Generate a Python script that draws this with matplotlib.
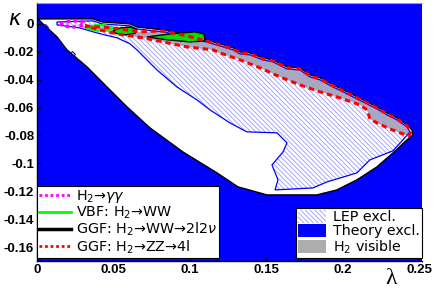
import matplotlib
matplotlib.use('Agg')
import matplotlib.pyplot as plt
from matplotlib.patches import Polygon, Patch
from matplotlib.lines import Line2D

# allowed (not theory-excluded) region, lambda / kappa
allowed_lam = [0.0007, 0.0366, 0.0425, 0.0609, 0.0654, 0.0825, 0.0982, 0.1086,
               0.1198, 0.1283, 0.1329, 0.1394, 0.1479, 0.1545, 0.1636, 0.1721,
               0.1787, 0.1852, 0.1937, 0.2003, 0.2094, 0.2160, 0.2225, 0.2291,
               0.2356, 0.2421, 0.2454, 0.2461,
               0.2421, 0.2330, 0.2225, 0.2094, 0.1963, 0.1832, 0.1505, 0.1315,
               0.1178, 0.0955, 0.0740, 0.0589, 0.0458, 0.0327, 0.0196, 0.0131,
               0.0039]
allowed_kap = [0.0036, 0.0036, 0.0014, 0.0, -0.0022, -0.0043, -0.0079, -0.0108,
               -0.0143, -0.0172, -0.0201, -0.0208, -0.0244, -0.0258, -0.0308, -0.0315,
               -0.0366, -0.0387, -0.0437, -0.0473, -0.0523, -0.0559, -0.0595, -0.0638,
               -0.0674, -0.0724, -0.0760, -0.0796,
               -0.0832, -0.0925, -0.1025, -0.1118, -0.1190, -0.1226, -0.1226, -0.1168,
               -0.1068, -0.0918, -0.0746, -0.0595, -0.0452, -0.0308, -0.0186, -0.0093,
               0.0]

# LEP excluded region
lep_lam = [0.0131, 0.0366, 0.0425, 0.0609, 0.0654, 0.0825, 0.0982, 0.1086,
           0.1198, 0.1283, 0.1329, 0.1394, 0.1479, 0.1545, 0.1636, 0.1721,
           0.1787, 0.1852, 0.1937, 0.2003, 0.2094, 0.2160, 0.2225, 0.2291,
           0.2356, 0.2421, 0.2441,
           0.2395, 0.2330, 0.2179, 0.2094, 0.1898, 0.1806, 0.1558, 0.1577,
           0.1538, 0.1610, 0.1636, 0.1571, 0.1374, 0.1263, 0.1132, 0.1047,
           0.0916, 0.0785, 0.0654, 0.0609, 0.0524, 0.0393, 0.0281, 0.0131]
lep_kap = [0.0014, 0.0022, 0.0, -0.0014, -0.0036, -0.0057, -0.0093, -0.0122,
           -0.0158, -0.0186, -0.0215, -0.0222, -0.0258, -0.0272, -0.0323, -0.0330,
           -0.0380, -0.0401, -0.0452, -0.0487, -0.0538, -0.0573, -0.0609, -0.0652,
           -0.0688, -0.0738, -0.0774,
           -0.0832, -0.0910, -0.0975, -0.1068, -0.1133, -0.1176, -0.1190, -0.1118,
           -0.1011, -0.0918, -0.0853, -0.0781, -0.0774, -0.0710, -0.0616, -0.0545,
           -0.0452, -0.0330, -0.0186, -0.0143, -0.0100, -0.0065, -0.0029, -0.0007]
lep_dots_lam = [0.0052, 0.0137, 0.0229]
lep_dots_kap = [-0.0022, -0.0129, -0.0215]

# H2 visible band (also the ZZ->4l contour)
vis_lam = [0.0314, 0.0497, 0.0674, 0.0825, 0.0982, 0.1086, 0.1198, 0.1283,
           0.1329, 0.1394, 0.1479, 0.1545, 0.1636, 0.1721, 0.1787, 0.1852,
           0.1937, 0.2003, 0.2094, 0.2160, 0.2225, 0.2291, 0.2356, 0.2421,
           0.2448, 0.2435,
           0.2376, 0.2310, 0.2225, 0.2179, 0.2160, 0.2114, 0.1983, 0.1852,
           0.1721, 0.1590, 0.1459, 0.1329, 0.1198, 0.1152, 0.0982, 0.0825,
           0.0694, 0.0524, 0.0412]
vis_kap = [-0.0014, -0.0029, -0.0057, -0.0050, -0.0086, -0.0115, -0.0151, -0.0179,
           -0.0208, -0.0215, -0.0251, -0.0265, -0.0315, -0.0323, -0.0373, -0.0394,
           -0.0444, -0.0480, -0.0530, -0.0566, -0.0602, -0.0645, -0.0681, -0.0731,
           -0.0774, -0.0803,
           -0.0781, -0.0753, -0.0710, -0.0681, -0.0616, -0.0581, -0.0530, -0.0487,
           -0.0437, -0.0380, -0.0315, -0.0258, -0.0208, -0.0186, -0.0165, -0.0129,
           -0.0100, -0.0072, -0.0043]

# H2 -> gamma gamma contour
gg_lam = [0.0151, 0.0190, 0.0249, 0.0301, 0.0308, 0.0242, 0.0170, 0.0151]
gg_kap = [0.0, 0.0014, 0.0022, 0.0014, -0.0007, -0.0022, -0.0014, 0.0]

# VBF / GGF WW contours (three small islands)
wwA_lam = [0.0327, 0.0380, 0.0445, 0.0497, 0.0445, 0.0380, 0.0327]
wwA_kap = [-0.0029, -0.0010, -0.0010, -0.0029, -0.0047, -0.0047, -0.0029]
wwB_lam = [0.0497, 0.0543, 0.0609, 0.0654, 0.0641, 0.0576, 0.0517, 0.0497]
wwB_kap = [-0.0050, -0.0029, -0.0022, -0.0040, -0.0068, -0.0079, -0.0068, -0.0050]
wwC_lam = [0.0720, 0.0870, 0.1034, 0.1093, 0.1100, 0.1001, 0.0838, 0.0720]
wwC_kap = [-0.0093, -0.0072, -0.0057, -0.0072, -0.0122, -0.0129, -0.0112, -0.0093]

x_ticks = [0, 0.05, 0.1, 0.15, 0.2, 0.25]
x_labels = ['0', '0.05', '0.1', '0.15', '0.2', '0.25']
y_ticks = [0, -0.02, -0.04, -0.06, -0.08, -0.1, -0.12, -0.14, -0.16]
y_labels = ['0', '-0.02', '-0.04', '-0.06', '-0.08', '-0.1', '-0.12', '-0.14', '-0.16']

BLUE = '#0000ff'
GRAY = '#adadad'
HATCH = '#9a9aff'
HATCH_PAT = '\\\\\\\\\\\\\\'

plt.rcParams['font.family'] = ['DejaVu Sans']
plt.rcParams['hatch.linewidth'] = 0.6

fig = plt.figure(figsize=(4.36, 2.94), dpi=100)
ax = fig.add_axes([0.0849, 0.1122, 0.8830, 0.8776])
ax.set_facecolor(BLUE)

ax.add_patch(Polygon(list(zip(allowed_lam, allowed_kap)), closed=True,
                     facecolor='white', edgecolor='black', lw=1.0, zorder=1))
ax.add_patch(Polygon(list(zip(vis_lam, vis_kap)), closed=True,
                     facecolor=GRAY, edgecolor='none', zorder=2))
ax.add_patch(Polygon(list(zip(lep_lam, lep_kap)), closed=True,
                     facecolor='none', edgecolor=HATCH, hatch=HATCH_PAT, lw=0, zorder=3))
ax.add_patch(Polygon(list(zip(lep_lam, lep_kap)), closed=True,
                     facecolor='none', edgecolor=BLUE, lw=0.9, zorder=4))
ax.plot(lep_dots_lam, lep_dots_kap, 'D', ms=3, mfc='none', mec=BLUE, mew=0.8, zorder=4)

# ZZ -> 4l contour
ax.plot(vis_lam + vis_lam[:1], vis_kap + vis_kap[:1], color='red', lw=2.2,
        ls=(0, (1.8, 1.3)), zorder=6)
ax.plot(gg_lam, gg_kap, color='#ff00ff', lw=2.5, ls=(0, (1, 1)), zorder=6)

for lam, kap in [(wwB_lam, wwB_kap), (wwC_lam, wwC_kap)]:
    ax.add_patch(Polygon(list(zip(lam, kap)), closed=True, facecolor='#00e000',
                         edgecolor='black', lw=1.0, zorder=5))
ax.plot(wwA_lam, wwA_kap, color='#00ff00', lw=1.8, zorder=5)

ax.set_xlim(0, 0.252)
ax.set_ylim(-0.17, 0.015)
ax.set_xticks(x_ticks)
ax.set_xticklabels(x_labels)
ax.set_yticks(y_ticks)
ax.set_yticklabels(y_labels)
for lab in ax.get_xticklabels() + ax.get_yticklabels():
    lab.set_fontfamily('Liberation Sans')
    lab.set_fontweight('bold')
    lab.set_fontsize(9.5)
ax.tick_params(direction='in', length=3, width=0.6, pad=2)
ax.spines['right'].set_visible(False)
ax.spines['top'].set_color('#9a9ac8')
ax.spines['left'].set_linewidth(1.0)
ax.spines['bottom'].set_linewidth(1.0)

fig.text(0.034, 0.935, r'$\kappa$', fontsize=15, ha='center', va='center')
fig.text(0.897, 0.052, 'λ', fontsize=17, ha='center', va='center',
         family=['Liberation Serif', 'DejaVu Serif'])

line_handles = [
    Line2D([], [], color='#ff00ff', lw=2, ls=(0, (1, 1))),
    Line2D([], [], color='#00ff00', lw=2),
    Line2D([], [], color='black', lw=2.5),
    Line2D([], [], color='red', lw=2, ls=(0, (1, 1))),
]
line_labels = [r'H$_2$→$\gamma\gamma$', r'VBF: H$_2$→WW',
               r'GGF: H$_2$→WW→2l2$\nu$', r'GGF: H$_2$→ZZ→4l']
leg1 = ax.legend(line_handles, line_labels, loc='lower left',
                 bbox_to_anchor=(0, 0.0116), borderaxespad=0, fontsize=10.3,
                 handlelength=2.2, handletextpad=0.35, labelspacing=0.0,
                 borderpad=0.15, fancybox=False, framealpha=1, edgecolor='black')
leg1.get_frame().set_linewidth(0.8)
ax.add_artist(leg1)

patch_handles = [
    Patch(facecolor='white', edgecolor=HATCH, hatch=HATCH_PAT, lw=0),
    Patch(facecolor=BLUE, edgecolor='none'),
    Patch(facecolor=GRAY, edgecolor='none'),
]
patch_labels = ['LEP excl.', 'Theory excl.', r'H$_2$ visible']
leg2 = ax.legend(patch_handles, patch_labels, loc='lower right',
                 bbox_to_anchor=(1, 0.0116), borderaxespad=0, fontsize=10.3,
                 handlelength=1.95, handleheight=0.95, handletextpad=0.5,
                 labelspacing=0.0, borderpad=0.15, fancybox=False,
                 framealpha=1, edgecolor='black')
leg2.get_frame().set_linewidth(0.8)

fig.savefig('out.png', dpi=100)
